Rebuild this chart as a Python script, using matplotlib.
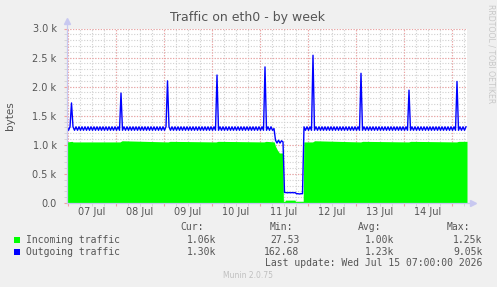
import numpy as np
import matplotlib
matplotlib.use('Agg')
import matplotlib.pyplot as plt
from matplotlib.transforms import blended_transform_factory

# outgoing traffic, one sample every 45 min from Jul 6 23:30 (left edge of the graph)
out_step = 0.75
out_bytes = [
    1310, 1250, 1310, 1720, 1310, 1250, 1310, 1250, 1310, 1250, 1310, 1250, 1310, 1250, 1310, 1250,
    1310, 1250, 1310, 1250, 1310, 1250, 1310, 1250, 1310, 1250, 1310, 1250, 1310, 1250, 1310, 1250,
    1310, 1250, 1310, 1250, 1890, 1250, 1310, 1250, 1310, 1250, 1310, 1250, 1310, 1250, 1310, 1250,
    1310, 1250, 1310, 1250, 1310, 1250, 1310, 1250, 1310, 1250, 1310, 1250, 1310, 1250, 1310, 1250,
    1310, 1250, 1310, 2100, 1310, 1250, 1310, 1250, 1310, 1250, 1310, 1250, 1310, 1250, 1310, 1250,
    1310, 1250, 1310, 1250, 1310, 1250, 1310, 1250, 1310, 1250, 1310, 1250, 1310, 1250, 1310, 1250,
    1310, 1250, 1310, 1250, 2200, 1250, 1310, 1250, 1310, 1250, 1310, 1250, 1310, 1250, 1310, 1250,
    1310, 1250, 1310, 1250, 1310, 1250, 1310, 1250, 1310, 1250, 1310, 1250, 1310, 1250, 1310, 1250,
    1310, 1250, 1310, 1250, 2340, 1250, 1310, 1250, 1310, 1250, 1280, 1080, 1030, 1080, 1030, 1070,
    1050, 180, 180, 175, 180, 175, 180, 175, 180, 160, 160, 155, 160, 160, 1310, 1250,
    1310, 1250, 1310, 1250, 2540, 1250, 1310, 1250, 1310, 1250, 1310, 1250, 1310, 1250, 1310, 1250,
    1310, 1250, 1310, 1250, 1310, 1250, 1310, 1250, 1310, 1250, 1310, 1250, 1310, 1250, 1310, 1250,
    1310, 1250, 1310, 1250, 2230, 1250, 1310, 1250, 1310, 1250, 1310, 1250, 1310, 1250, 1310, 1250,
    1310, 1250, 1310, 1250, 1310, 1250, 1310, 1250, 1310, 1250, 1310, 1250, 1310, 1250, 1310, 1250,
    1310, 1250, 1310, 1250, 1940, 1250, 1310, 1250, 1310, 1250, 1310, 1250, 1310, 1250, 1310, 1250,
    1310, 1250, 1310, 1250, 1310, 1250, 1310, 1250, 1310, 1250, 1310, 1250, 1310, 1250, 1310, 1250,
    1310, 1250, 1310, 1250, 2090, 1250, 1310, 1250, 1310, 1250, 1310,
]
out_hours = np.arange(len(out_bytes)) * out_step

# incoming traffic, hours since Jul 6 23:30
in_hours = [0, 2.5, 3.0, 26.5, 27.5, 50.5, 51.5, 74.5, 75.5, 98.5, 99.5, 103.6, 104.2, 105.2,
            106.2, 107.9, 108.2, 109, 109.2, 114, 114.2, 118.1, 118.4, 122.8, 123.8, 146.8,
            147.8, 170.8, 171.8, 194.8, 195.8, 200]
in_bytes = [1050, 1060, 1050, 1050, 1070, 1050, 1060, 1050, 1060, 1050, 1060, 1050, 980, 910,
            860, 860, 30, 30, 50, 50, 30, 30, 1050, 1050, 1070, 1050,
            1060, 1050, 1060, 1050, 1060, 1060]

day_labels = ['07 Jul', '08 Jul', '09 Jul', '10 Jul', '11 Jul', '12 Jul', '13 Jul', '14 Jul']
midnights = [0.5, 24.5, 48.5, 72.5, 96.5, 120.5, 144.5, 168.5, 192.5]
y_major = [0, 500, 1000, 1500, 2000, 2500, 3000]
y_labels = ['0.0', '0.5 k', '1.0 k', '1.5 k', '2.0 k', '2.5 k', '3.0 k']

series_names = ['Incoming traffic', 'Outgoing traffic']
series_colors = ['#00FF00', '#0000FF']
cur_vals = ['1.06k', '1.30k']
min_vals = ['27.53', '162.68']
avg_vals = ['1.00k', '1.23k']
max_vals = ['1.25k', '9.05k']

W, H = 497, 287
TXT = '#555555'
MAJOR = '#F0A0A0'
MINOR = '#D0D0D0'
AXIS = '#C8C8F0'

fig = plt.figure(figsize=(W / 100, H / 100), dpi=100, facecolor='#F0F0F0')
ax = fig.add_axes([67 / W, 1 - 203 / H, 400 / W, 174.5 / H], facecolor='white')
ax.set_xlim(0, 200)
ax.set_ylim(0, 3000)

# grid (drawn by hand so minor and major get their own colours)
for h in np.arange(0.5, 200, 6):
    ax.axvline(h, color=MINOR, lw=0.8, ls=(0, (1, 1.5)), zorder=1)
for y in range(0, 3001, 100):
    ax.axhline(y, color=MINOR, lw=0.8, ls=(0, (1, 1.5)), zorder=1)
for h in midnights:
    ax.axvline(h, color=MAJOR, lw=0.8, ls=(0, (1, 1.5)), zorder=1.5)
for y in y_major:
    ax.axhline(y, color=MAJOR, lw=0.8, ls=(0, (1, 1.5)), zorder=1.5)

ax.fill_between(in_hours, 0, in_bytes, color=series_colors[0], lw=0, zorder=2)
ax.plot(out_hours, out_bytes, color=series_colors[1], lw=1.0, zorder=3)

for s in ['top', 'right']:
    ax.spines[s].set_visible(False)
for s in ['left', 'bottom']:
    ax.spines[s].set_color(AXIS)
    ax.spines[s].set_linewidth(0.9)
    ax.spines[s].set_zorder(4)
ax.spines['bottom'].set_bounds(0, 202)
ax.spines['left'].set_bounds(0, 3080)
ax.plot([0], [3130], marker='^', ms=4.5, color=AXIS, clip_on=False, zorder=5)
ax.plot([203], [0], marker='>', ms=4.5, color=AXIS, clip_on=False, zorder=5)

ax.set_yticks(y_major)
ax.set_yticklabels(y_labels)
ax.set_yticks(np.arange(0, 3001, 100), minor=True)
ax.set_xticks(midnights)
ax.set_xticklabels([])
ax.set_xticks(np.arange(0.5, 200, 6), minor=True)
ax.tick_params(which='major', length=2.5, width=0.8, color=MAJOR, labelsize=7,
               labelcolor=TXT, pad=5)
ax.tick_params(which='minor', length=2, width=0.6, color=MINOR)

tr = blended_transform_factory(ax.transData, fig.transFigure)
for i, lab in enumerate(day_labels):
    ax.text(midnights[i] + 12, 1 - 212 / H, lab, transform=tr, ha='center',
            va='center', fontsize=7, color=TXT)

fig.text(248 / W, 1 - 18 / H, 'Traffic on eth0 - by week', ha='center', va='center',
         fontsize=9, color=TXT)
fig.text(10 / W, 1 - 116 / H, 'bytes', rotation=90, ha='center', va='center',
         fontsize=7.5, color=TXT)
fig.text(491 / W, 1 - 54 / H, 'RRDTOOL / TOBI OETIKER', rotation=270, ha='center',
         va='center', fontsize=5.6, color='#C8C8C8')

mono = dict(family='DejaVu Sans Mono', fontsize=7, color=TXT, va='center')
cols = [216.7, 299.3, 394, 482.7]
heads = ['Cur:', 'Min:', 'Avg:', 'Max:']
head_right = [204, 292.7, 381, 470]
for x, t in zip(head_right, heads):
    fig.text(x / W, 1 - 227.5 / H, t, ha='right', **mono)
for i, name in enumerate(series_names):
    y = 1 - (239.7 + 12 * i) / H
    fig.patches.append(plt.Rectangle((14 / W, y - 3 / H), 6 / W, 6 / H,
                                     transform=fig.transFigure, facecolor=series_colors[i],
                                     edgecolor='none'))
    fig.text(26 / W, y, name, ha='left', **mono)
    for x, v in zip(cols, [cur_vals[i], min_vals[i], avg_vals[i], max_vals[i]]):
        fig.text(x / W, y, v, ha='right', **mono)
fig.text(482.7 / W, 1 - 263.5 / H, 'Last update: Wed Jul 15 07:00:00 2026', ha='right', **mono)
fig.text(248 / W, 1 - 276 / H, 'Munin 2.0.75', ha='center', va='center', fontsize=5.5,
         color='#C0C0C0')

fig.savefig('out.png', dpi=100, facecolor=fig.get_facecolor())
